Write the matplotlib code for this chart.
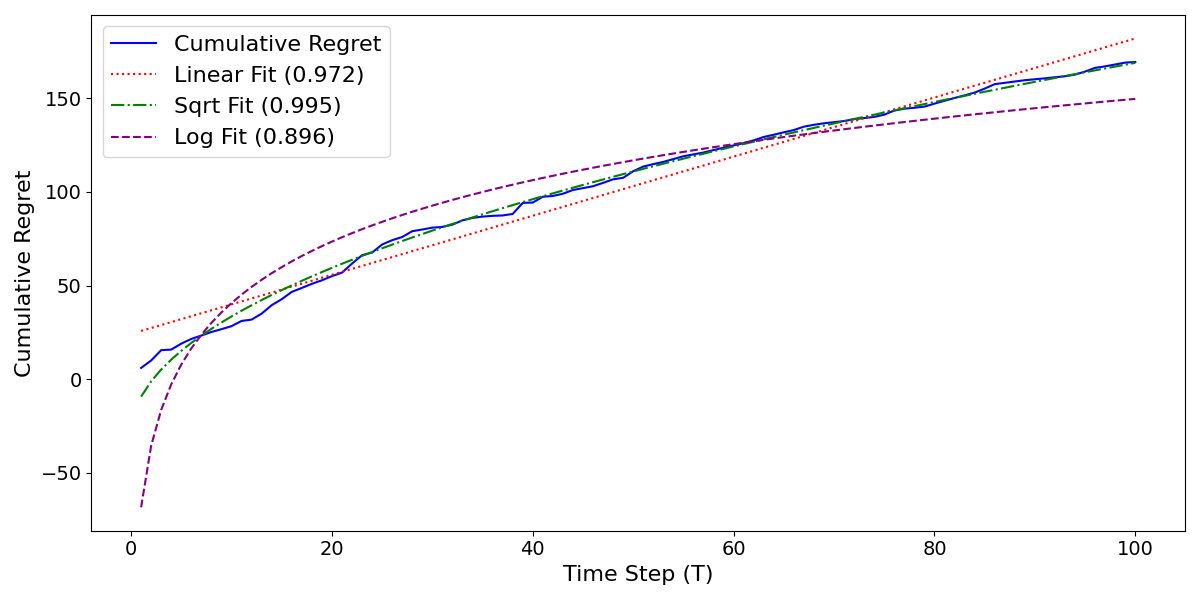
"""Cumulative regret over time with linear, sqrt and log fits."""

import numpy as np
import matplotlib

matplotlib.use("Agg")
import matplotlib.pyplot as plt

time_steps = np.arange(1, 101)

cumulative_regret = [
    6.0, 10.0, 15.5, 15.8, 19.0, 21.5, 23.3, 25.2, 26.7, 28.3,
    31.1, 31.8, 35.0, 39.5, 42.7, 46.6, 48.7, 50.9, 52.8, 55.0,
    56.9, 61.7, 66.2, 67.6, 71.9, 74.2, 75.9, 79.0, 79.9, 80.9,
    81.3, 82.5, 84.8, 86.1, 86.8, 87.2, 87.4, 88.2, 94.1, 94.3,
    97.4, 97.8, 99.0, 101.0, 102.0, 103.0, 104.8, 106.7, 107.5, 111.0,
    113.5, 114.8, 116.0, 117.5, 119.0, 120.0, 121.0, 122.3, 123.6, 124.8,
    126.0, 127.5, 129.3, 130.5, 131.8, 133.0, 134.8, 135.8, 136.6, 137.2,
    137.8, 138.8, 139.4, 140.0, 141.2, 143.4, 144.4, 144.9, 145.5, 147.1,
    148.6, 150.1, 151.5, 153.0, 155.1, 157.5, 158.2, 158.9, 159.6, 160.1,
    160.6, 161.2, 161.7, 162.6, 164.2, 166.2, 167.0, 168.0, 169.0, 169.3,
]

fit_labels = ["Linear Fit (0.972)", "Sqrt Fit (0.995)", "Log Fit (0.896)"]


def _fit(basis: np.ndarray, y: np.ndarray) -> np.ndarray:
    coeffs = np.polyfit(basis, y, 1)
    return np.polyval(coeffs, basis)


def main() -> int:
    t = time_steps.astype(float)
    y = np.asarray(cumulative_regret)

    linear = _fit(t, y)
    sqrt_fit = _fit(np.sqrt(t), y)
    log_fit = _fit(np.log(t), y)

    fig, ax = plt.subplots(figsize=(12, 6), dpi=100)
    ax.plot(t, y, color="blue", linewidth=1.5, label="Cumulative Regret")
    ax.plot(t, linear, color="red", linestyle=":", linewidth=1.5, label=fit_labels[0])
    ax.plot(t, sqrt_fit, color="green", linestyle="-.", linewidth=1.5, label=fit_labels[1])
    ax.plot(t, log_fit, color="purple", linestyle="--", linewidth=1.5, label=fit_labels[2])

    ax.set_xlabel("Time Step (T)", fontsize=16)
    ax.set_ylabel("Cumulative Regret", fontsize=16)
    ax.tick_params(labelsize=14)
    ax.legend(fontsize=16, loc="upper left")
    fig.tight_layout()
    fig.savefig("out.png")
    plt.close(fig)
    return 0


if __name__ == "__main__":
    raise SystemExit(main())
